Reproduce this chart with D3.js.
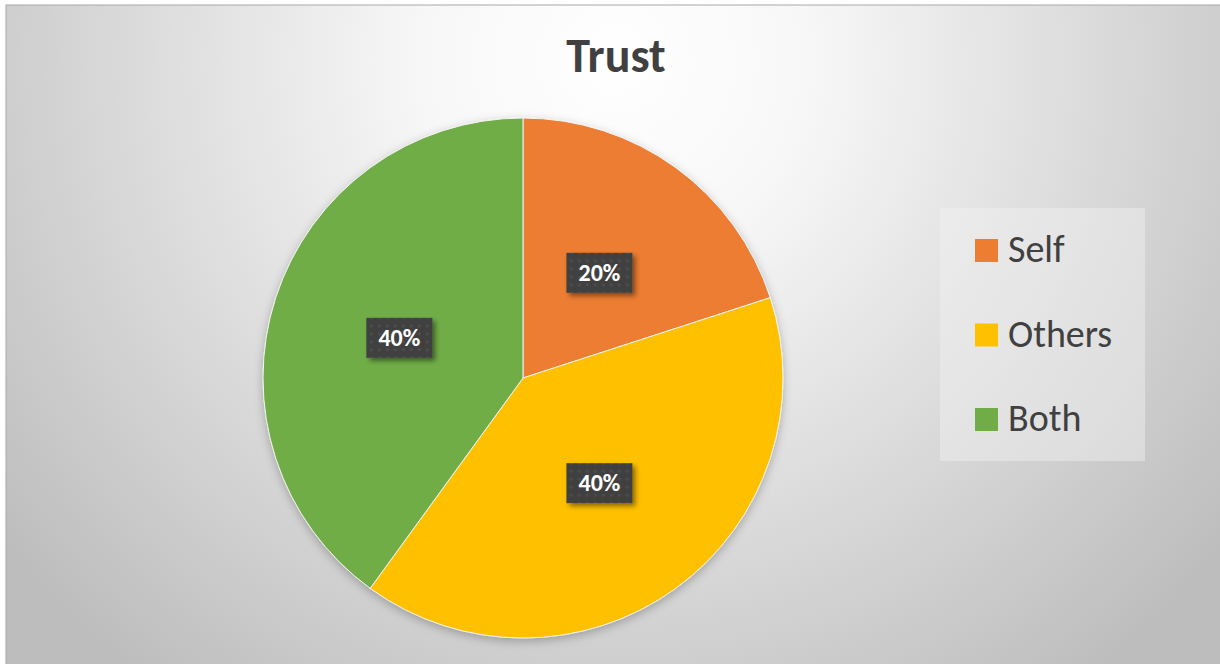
<!DOCTYPE html>
<html lang="en">
<head>
  <meta charset="UTF-8">
  <title>Trust</title>
  <script src="https://d3js.org/d3.v7.min.js"></script>
  <style>
    body {
      margin: 0;
      background: white;
    }
    text {
      font-family: Carlito, 'Noto Sans', sans-serif;
    }
  </style>
</head>
<body>

<svg width="1220" height="664"></svg>

<script>
const categories = ["Self", "Others", "Both"];
const values = [20, 40, 40];
const colors = ["#ED7D31", "#FFC000", "#70AD47"];
const title = "Trust";

const width = 1220, height = 664;
const cx = 523, cy = 378, radius = 260;

const svg = d3.select("svg")
  .attr("width", width)
  .attr("height", height);

const defs = svg.append("defs");

// chart area background: light radial gradient
const bg = defs.append("radialGradient")
  .attr("id", "bgGrad")
  .attr("gradientUnits", "userSpaceOnUse")
  .attr("cx", 615).attr("cy", 60)
  .attr("r", 780);
bg.append("stop").attr("offset", "0%").attr("stop-color", "#ffffff");
bg.append("stop").attr("offset", "25%").attr("stop-color", "#f7f7f7");
bg.append("stop").attr("offset", "100%").attr("stop-color", "#bdbdbd");

// dotted texture for the data label boxes
const pat = defs.append("pattern")
  .attr("id", "dots")
  .attr("patternUnits", "userSpaceOnUse")
  .attr("width", 8).attr("height", 8);
pat.append("rect").attr("width", 8).attr("height", 8).attr("fill", "#404040");
pat.append("circle").attr("cx", 4).attr("cy", 4).attr("r", 1.6).attr("fill", "#4d4d4d");

const shadow = defs.append("filter")
  .attr("id", "shadow")
  .attr("x", "-20%").attr("y", "-20%")
  .attr("width", "150%").attr("height", "150%");
shadow.append("feDropShadow")
  .attr("dx", 3).attr("dy", 3)
  .attr("stdDeviation", 2.5)
  .attr("flood-color", "#000")
  .attr("flood-opacity", 0.45);

const pieShadow = defs.append("filter")
  .attr("id", "pieShadow")
  .attr("x", "-20%").attr("y", "-20%")
  .attr("width", "140%").attr("height", "140%");
pieShadow.append("feDropShadow")
  .attr("dx", 0).attr("dy", 3)
  .attr("stdDeviation", 5)
  .attr("flood-color", "#000")
  .attr("flood-opacity", 0.25);

svg.append("rect")
  .attr("x", 6).attr("y", 5)
  .attr("width", width).attr("height", height)
  .attr("fill", "url(#bgGrad)")
  .attr("stroke", "#a8a8a8")
  .attr("stroke-width", 1);

svg.append("text")
  .attr("x", 616)
  .attr("y", 72)
  .attr("text-anchor", "middle")
  .style("font-size", "48px")
  .style("font-weight", "bold")
  .style("fill", "#404040")
  .text(title);

const data = categories.map((c, i) => ({ category: c, value: values[i], color: colors[i] }));

const pie = d3.pie()
  .value(d => d.value)
  .sort(null);

const arc = d3.arc()
  .innerRadius(0)
  .outerRadius(radius);

const g = svg.append("g")
  .attr("transform", `translate(${cx}, ${cy})`);

const arcs = pie(data);

g.append("g")
  .attr("filter", "url(#pieShadow)")
  .selectAll("path")
  .data(arcs)
  .enter().append("path")
  .attr("d", arc)
  .style("fill", d => d.data.color)
  .style("stroke", "#f2f2f2")
  .style("stroke-width", 1);

// data labels
const total = d3.sum(values);
const labels = g.selectAll(".label")
  .data(arcs)
  .enter().append("g")
  .attr("transform", d => `translate(${arc.centroid(d)})`);

labels.append("rect")
  .attr("x", -33).attr("y", -20)
  .attr("width", 66).attr("height", 40)
  .attr("fill", "url(#dots)")
  .attr("filter", "url(#shadow)");

labels.append("text")
  .attr("text-anchor", "middle")
  .attr("dy", "0.34em")
  .style("font-size", "24px")
  .style("font-weight", "bold")
  .style("fill", "white")
  .text(d => `${Math.round(d.data.value / total * 100)}%`);

// legend
const legend = svg.append("g");
legend.append("rect")
  .attr("x", 940).attr("y", 208)
  .attr("width", 205).attr("height", 253)
  .attr("fill", "#f2f2f2")
  .attr("fill-opacity", 0.45);

const rowY = d3.scalePoint()
  .domain(categories)
  .range([250, 419]);

const rows = legend.selectAll(".row")
  .data(data)
  .enter().append("g")
  .attr("transform", d => `translate(975, ${rowY(d.category)})`);

rows.append("rect")
  .attr("x", 0).attr("y", -11)
  .attr("width", 23).attr("height", 23)
  .attr("fill", d => d.color);

rows.append("text")
  .attr("x", 33)
  .attr("y", 12)
  .style("font-size", "38px")
  .style("fill", "#404040")
  .text(d => d.category);
</script>

</body>
</html>
